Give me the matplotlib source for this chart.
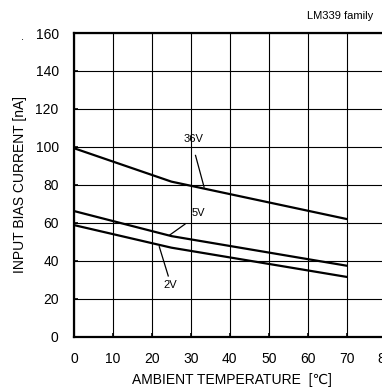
import matplotlib
matplotlib.use("Agg")
import matplotlib.pyplot as plt

plt.rcParams['font.family'] = ['Liberation Sans', 'DejaVu Sans']

# Curves (temperature in degC, current in nA).
temp_36v = [0, 25, 70]
bias_36v = [99.3, 81.7, 62.0]
temp_5v = [0, 25, 70]
bias_5v = [66.2, 53.0, 37.4]
temp_2v = [0, 25, 70]
bias_2v = [58.8, 46.9, 31.5]

x_ticks = [0, 10, 20, 30, 40, 50, 60, 70, 80]
y_ticks = [0, 20, 40, 60, 80, 100, 120, 140, 160]

fig = plt.figure(figsize=(3.82, 3.91), dpi=100)
ax = fig.add_axes([0.1937, 0.1389, 0.8157, 0.7767])

for x, y in [(temp_36v, bias_36v), (temp_5v, bias_5v), (temp_2v, bias_2v)]:
    ax.plot(x, y, color='black', lw=1.6, zorder=3)

ax.set_xlim(0, 80)
ax.set_ylim(0, 160)
ax.set_xticks(x_ticks)
ax.set_yticks(y_ticks)
ax.grid(True, color='black', lw=0.8)
ax.tick_params(direction='in', length=3, width=1.2, pad=11, labelsize=10)
for s in ax.spines.values():
    s.set_linewidth(1.6)

# Curve labels with pointer lines.
ax.text(30.8, 104.2, '36V', fontsize=8, ha='center', va='center')
ax.plot([31.2, 33.4], [95.5, 78.8], color='black', lw=0.9)
ax.text(31.9, 65.1, '5V', fontsize=8, ha='center', va='center')
ax.plot([28.5, 24.6], [59.3, 53.6], color='black', lw=0.9)
ax.text(24.6, 27.2, '2V', fontsize=8, ha='center', va='center')
ax.plot([21.9, 24.2], [47.4, 32.0], color='black', lw=0.9)

ax.set_xlabel('AMBIENT TEMPERATURE  [\u2103]', fontsize=10, va='center')
ax.set_ylabel('INPUT BIAS CURRENT [nA]', fontsize=10, labelpad=6)
ax.xaxis.set_label_coords(0.506, -0.1426)

fig.text(340 / 382, 1 - 16 / 391, 'LM339 family', fontsize=8, ha='center', va='center')
fig.text(22 / 382, 1 - 37 / 391, '.', fontsize=8, ha='center', va='center')

fig.savefig('out.png', dpi=100)
